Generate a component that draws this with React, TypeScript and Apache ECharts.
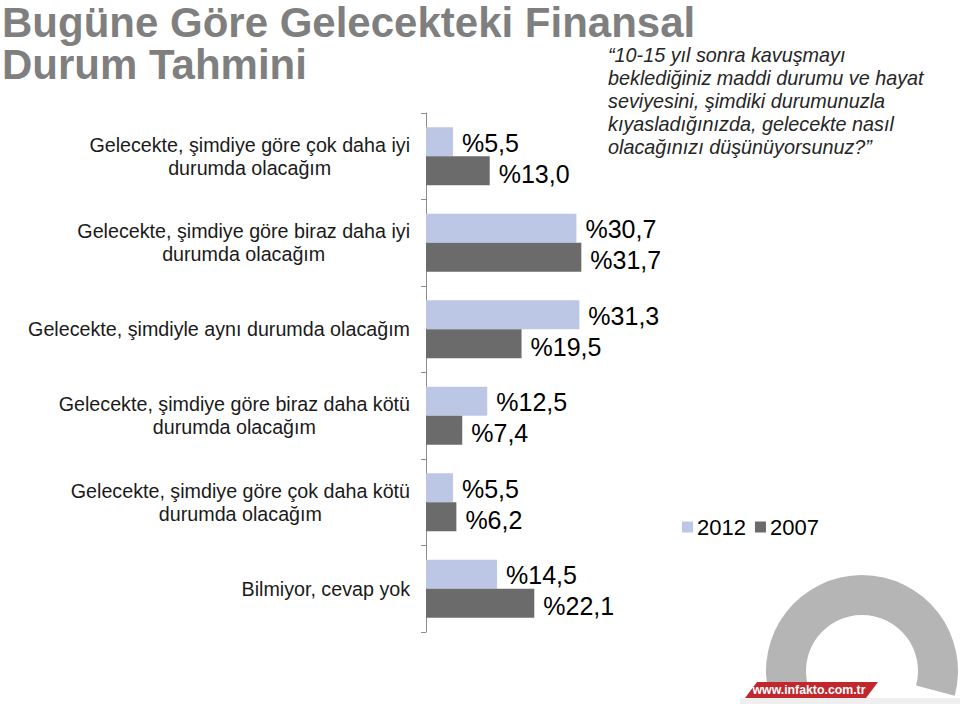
import React, { useEffect, useRef } from "react";
import * as echarts from "echarts";

const titleLines = ["Bugüne Göre Gelecekteki Finansal", "Durum Tahmini"];
const questionLines = [
  "“10-15 yıl sonra kavuşmayı",
  "beklediğiniz maddi durumu ve hayat",
  "seviyesini, şimdiki durumunuzla",
  "kıyasladığınızda, gelecekte nasıl",
  "olacağınızı düşünüyorsunuz?”",
];
const categories = [
  "Gelecekte, şimdiye göre çok daha iyi\ndurumda olacağım",
  "Gelecekte, şimdiye göre biraz daha iyi\ndurumda olacağım",
  "Gelecekte, şimdiyle aynı durumda olacağım",
  "Gelecekte, şimdiye göre biraz daha kötü\ndurumda olacağım",
  "Gelecekte, şimdiye göre çok daha kötü\ndurumda olacağım",
  "Bilmiyor, cevap yok",
];
const seriesNames = ["2012", "2007"];
const values2012 = [5.5, 30.7, 31.3, 12.5, 5.5, 14.5];
const values2007 = [13.0, 31.7, 19.5, 7.4, 6.2, 22.1];
const logoText = "www.infakto.com.tr";

const FONT = "'Liberation Sans', Arial, sans-serif";
const fmt = (v: number) => "%" + v.toFixed(1).replace(".", ",");

export default function App() {
  const ref = useRef<HTMLDivElement>(null);
  useEffect(() => {
    if (!ref.current) return;
    const chart = echarts.init(ref.current, undefined, { renderer: "svg" });
    const labelStyle = {
      show: true,
      position: "right",
      distance: 9,
      offset: [0, 2],
      color: "#000",
      fontSize: 25,
      fontFamily: FONT,
      formatter: (p: any) => fmt(p.value),
    };
    const titleStyle = {
      fontSize: 42,
      fontWeight: "bold",
      color: "#7F7F7F",
      lineHeight: 42,
      fontFamily: FONT,
    };
    chart.setOption({
      animation: false,
      backgroundColor: "#ffffff",
      textStyle: { fontFamily: FONT },
      title: [
        { text: titleLines[0], left: 2, top: 1, padding: 0, textStyle: titleStyle },
        { text: titleLines[1], left: 2, top: 43, padding: 0, textStyle: titleStyle },
        {
          text: questionLines.join("\n"),
          left: 608,
          top: 43,
          padding: 0,
          textStyle: {
            fontSize: 19.8,
            fontStyle: "italic",
            fontWeight: "normal",
            color: "#262626",
            lineHeight: 23.2,
            fontFamily: FONT,
          },
        },
      ],
      legend: {
        data: seriesNames,
        left: 682,
        top: 516,
        itemWidth: 11,
        itemHeight: 11,
        itemGap: 9,
        icon: "rect",
        padding: 0,
        textStyle: { fontSize: 22, color: "#000", fontFamily: FONT, padding: [0, 0, 0, -1] },
      },
      grid: { left: 426, top: 113, width: 196, height: 519, containLabel: false },
      xAxis: {
        type: "value",
        min: 0,
        max: 40,
        show: false,
      },
      yAxis: {
        type: "category",
        data: categories,
        inverse: true,
        axisLine: { show: true, lineStyle: { color: "#8C8C8C", width: 1 } },
        axisTick: { show: true, length: 5, lineStyle: { color: "#8C8C8C" } },
        axisLabel: {
          margin: 16,
          formatter: (v: string) =>
            v
              .split("\n")
              .map((l) => `{c|${l}}`)
              .join("\n"),
          rich: {
            c: {
              align: "center",
              fontSize: 19.7,
              lineHeight: 23,
              color: "#1a1a1a",
              fontFamily: FONT,
            },
          },
        },
      },
      series: [
        {
          name: seriesNames[0],
          type: "bar",
          data: values2012,
          barWidth: 29,
          barGap: "0%",
          itemStyle: { color: "#BCC7E6" },
          label: { ...labelStyle, offset: [0, 1] },
        },
        {
          name: seriesNames[1],
          type: "bar",
          data: values2007,
          barWidth: 29,
          barGap: "0%",
          itemStyle: { color: "#6B6B6B" },
          label: { ...labelStyle, offset: [0, 3] },
        },
      ],
      graphic: [
        {
          type: "rect",
          shape: { x: 740, y: 698, width: 220, height: 6 },
          style: { fill: "#EFEFEF" },
          silent: true,
        },
        {
          type: "sector",
          shape: {
            cx: 862,
            cy: 671,
            r0: 56,
            r: 96,
            startAngle: Math.PI - 0.26,
            endAngle: 2 * Math.PI + 0.26,
            clockwise: true,
          },
          style: { fill: "#B5B5B5" },
          silent: true,
        },
        {
          type: "polygon",
          shape: {
            points: [
              [745, 698],
              [757, 682],
              [878, 682],
              [866, 698],
            ],
          },
          style: { fill: "#C1272D" },
          silent: true,
        },
        {
          type: "text",
          x: 809,
          y: 690,
          style: {
            text: logoText,
            fill: "#ffffff",
            fontSize: 12.3,
            fontWeight: "bold",
            fontFamily: FONT,
            align: "center",
            verticalAlign: "middle",
          },
          silent: true,
        },
      ],
    });
    return () => chart.dispose();
  }, []);
  return (
    <div
      ref={ref}
      style={{ position: "fixed", left: 0, top: 0, width: 960, height: 704 }}
    />
  );
}
